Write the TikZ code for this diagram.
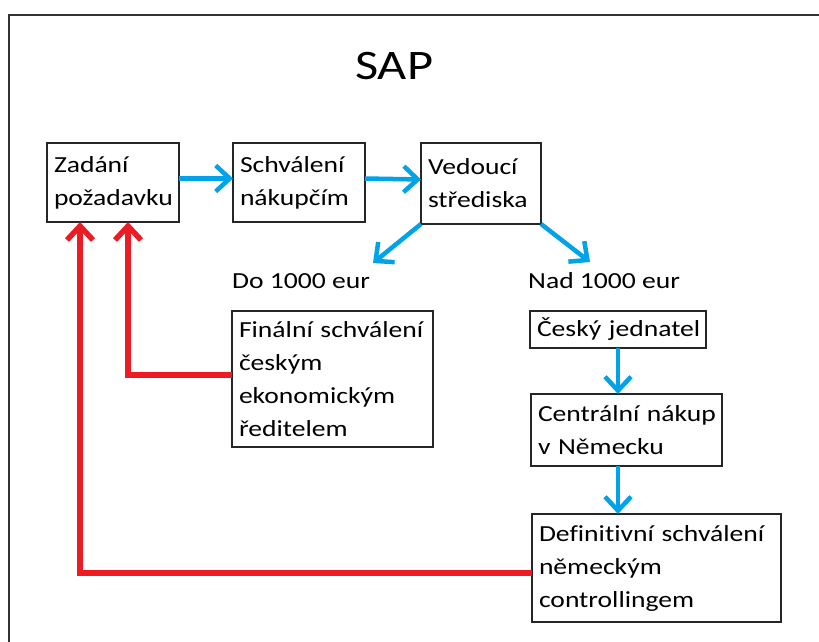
\documentclass[tikz,border=0pt]{standalone}
\usepackage{fontspec}
\setmainfont{Carlito}[FakeStretch=1.2,Ligatures={NoCommon}]
\usetikzlibrary{arrows.meta,calc}
\definecolor{skyb}{RGB}{0,162,232}
\definecolor{redl}{RGB}{237,28,36}
\begin{document}
\begin{tikzpicture}[x=1pt,y=-1pt,
  box/.style={draw=black!85, line width=1.5pt, rectangle, anchor=north west,
    inner xsep=7pt, inner ysep=0pt, outer sep=0pt, align=left,
    font=\fontsize{23}{33}\selectfont},
  lbl/.style={anchor=base west, inner sep=0pt, font=\fontsize{23}{33}\selectfont},
  blu/.style={draw=skyb, line width=4.5pt, -{Straight Barb[length=14pt,width=26pt]}},
  rd/.style={draw=redl, line width=5.5pt, -{Straight Barb[length=14pt,width=26pt]}}
]
\useasboundingbox (0,0) rectangle (819,642);
\fill[white] (0,0) rectangle (819,642);
\draw[line width=2pt, black!80] (819,15) -- (9,15) -- (9,642);

\node[anchor=base west, inner sep=0pt, font=\fontsize{42}{50}\selectfont] (title) at (355,80) {SAP};

\node[box, minimum width=132pt, minimum height=79pt, text width=118pt] (zad) at (47,143) {\mbox{Zadání}\\\mbox{požadavku}};
\node[box, minimum width=132pt, minimum height=79pt, text width=118pt] (sch) at (233,143) {\mbox{Schválení}\\\mbox{nákupčím}};
\node[box, minimum width=120pt, minimum height=81pt, text width=106pt] (ved) at (421,143) {\mbox{Vedoucí}\\\mbox{střediska}};
\node[box, minimum width=201pt, minimum height=136pt, text width=187pt] (fin) at (232,311) {\mbox{Finální schválení}\\\mbox{českým}\\\mbox{ekonomickým}\\\mbox{ředitelem}};
\node[box, minimum width=176pt, minimum height=37pt, text width=162pt] (ces) at (530,311) {\mbox{Český jednatel}};
\node[box, minimum width=191pt, minimum height=72pt, text width=177pt] (cen) at (531,394) {\mbox{Centrální nákup}\\\mbox{v Německu}};
\node[box, minimum width=249pt, minimum height=108pt, text width=235pt] (def) at (532,514) {\mbox{Definitivní schválení}\\\mbox{německým}\\\mbox{controllingem}};

\node[lbl] (do) at (232,288) {Do 1000 eur};
\node[lbl] (nad) at (528,288) {Nad 1000 eur};

\coordinate (tipL) at (373,263);
\coordinate (tipR) at (590,262);

\draw[blu] ([yshift=4pt]zad.east) -- ([yshift=4pt]sch.west);
\draw[blu] ([yshift=4pt]sch.east) -- ([yshift=4pt]ved.west);
\draw[blu] (ved.south west) -- (tipL);
\draw[blu] (ved.south east) -- (tipR);
\draw[blu] (ces.south) -- (ces.south |- cen.north);
\draw[blu] (ces.south |- cen.south) -- (ces.south |- def.north);

\draw[rd] ([yshift=4pt]fin.west) -| ([xshift=15pt]zad.south);
\draw[rd] ([yshift=-5pt]def.west) -| ([xshift=-33pt]zad.south);
\end{tikzpicture}
\end{document}
